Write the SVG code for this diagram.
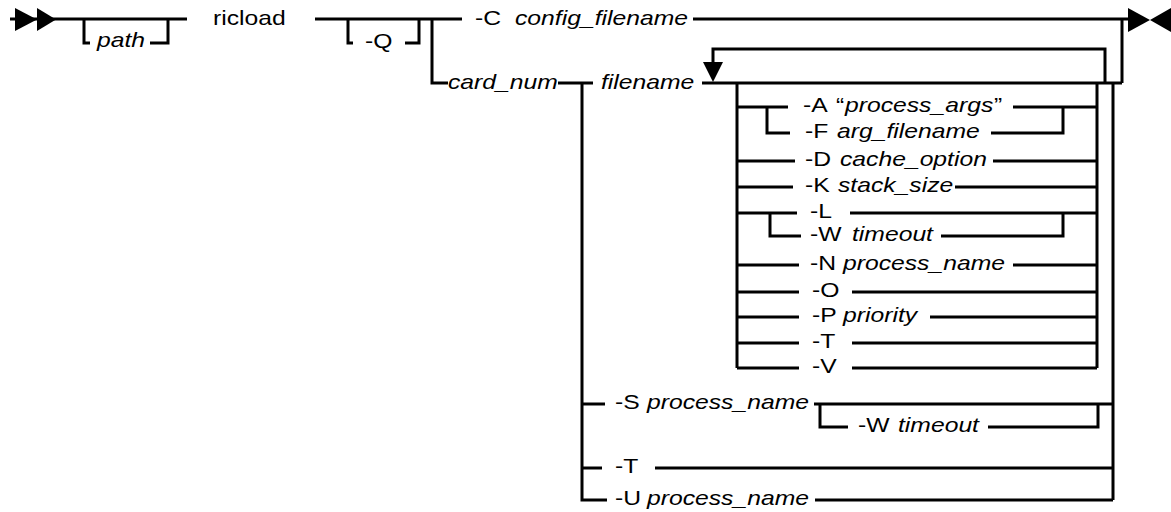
<svg xmlns="http://www.w3.org/2000/svg" width="1171" height="512" viewBox="0 0 1171 512">
  <style>
    .w { stroke: #000; stroke-width: 3; fill: none; stroke-linecap: butt; stroke-linejoin: miter; }
    .ah { fill: #000; stroke: none; }
    text { font-family: "Liberation Sans", Arial, sans-serif; font-size: 20px; fill: #000; }
    .i { font-style: italic; }
  </style>
  <rect width="1171" height="512" fill="#fff"/>

  <!-- connectors: main line, branches, rails and loop -->
  <g id="connectors" class="w">
    <!-- main line -->
    <path d="M10 19 H187"/>
    <path d="M315 19 H462"/>
    <path d="M693 19 H1128"/>
    <path d="M1122 19 V83"/>
    <!-- optional path -->
    <path d="M84 19 V43 H90"/>
    <path d="M150 43 H168 V19"/>
    <!-- optional -Q -->
    <path d="M348 19 V43 H353"/>
    <path d="M405 43 H419 V19"/>
    <!-- card_num branch -->
    <path d="M432 19 V83 H448"/>
    <path d="M558 83 H593"/>
    <path d="M582 83 V500 H607"/>
    <path d="M702 83 H1122"/>
    <!-- repeat loop -->
    <path d="M713 62 V49 H1105 V83"/>
    <!-- option group rails -->
    <path d="M737 83 V368"/>
    <path d="M1097 83 V368"/>
    <path d="M1113 83 V500"/>
    <!-- -A / -F -->
    <path d="M737 107 H788"/>
    <path d="M1013 107 H1097"/>
    <path d="M767 107 V133 H790"/>
    <path d="M991 133 H1063 V107"/>
    <!-- -D -->
    <path d="M737 161 H795"/>
    <path d="M993 161 H1097"/>
    <!-- -K -->
    <path d="M737 187 H793"/>
    <path d="M955 187 H1097"/>
    <!-- -L / -W -->
    <path d="M737 213 H797"/>
    <path d="M850 213 H1097"/>
    <path d="M770 213 V236 H801"/>
    <path d="M941 236 H1063 V213"/>
    <!-- -N -->
    <path d="M737 265 H799"/>
    <path d="M1013 265 H1097"/>
    <!-- -O -->
    <path d="M737 292 H799"/>
    <path d="M852 292 H1097"/>
    <!-- -P -->
    <path d="M737 317 H799"/>
    <path d="M930 317 H1097"/>
    <!-- -T -->
    <path d="M737 343 H799"/>
    <path d="M852 343 H1097"/>
    <!-- -V -->
    <path d="M737 368 H799"/>
    <path d="M852 368 H1097"/>
    <!-- -S / -W -->
    <path d="M582 404 H605"/>
    <path d="M814 404 H1113"/>
    <path d="M820 404 V427 H848"/>
    <path d="M988 427 H1098 V404"/>
    <!-- -T -->
    <path d="M582 468 H602"/>
    <path d="M655 468 H1113"/>
    <!-- -U -->
    <path d="M815 500 H1113"/>
  </g>

  <!-- start / end / loop markers -->
  <g id="start">
    <polygon class="ah" points="15,8 37,19.5 15,31"/>
    <polygon class="ah" points="37,8 56,19.5 37,31"/>
  </g>
  <g id="end">
    <polygon class="ah" points="1128,8 1150,20 1128,32"/>
    <polygon class="ah" points="1171,8 1150,20 1171,32"/>
  </g>
  <g id="loop-arrow">
    <polygon class="ah" points="703,62 723,62 713,82"/>
  </g>

  <!-- main row -->
  <g id="path"><text class="i" transform="translate(97 47) scale(1.235 1)">path</text></g>
  <g id="ricload"><text transform="translate(213 25) scale(1.235 1)">ricload</text></g>
  <g id="opt-Q"><text transform="translate(365 48) scale(1.235 1)">-Q</text></g>
  <g id="opt-C">
    <text transform="translate(475 25) scale(1.235 1)">-C</text>
    <text class="i" transform="translate(515 25) scale(1.235 1)">config_filename</text>
  </g>
  <g id="card_num"><text class="i" transform="translate(448 89) scale(1.235 1)">card_num</text></g>
  <g id="filename"><text class="i" transform="translate(601 89) scale(1.235 1)">filename</text></g>

  <!-- option group -->
  <g id="opt-A">
    <text transform="translate(803 112) scale(1.235 1)">-A</text>
    <text transform="translate(836 112) scale(1.235 1)">“</text>
    <text class="i" transform="translate(845 112) scale(1.235 1)">process_args</text>
    <text transform="translate(994 112) scale(1.235 1)">”</text>
  </g>
  <g id="opt-F">
    <text transform="translate(805 138) scale(1.235 1)">-F</text>
    <text class="i" transform="translate(837 138) scale(1.235 1)">arg_filename</text>
  </g>
  <g id="opt-D">
    <text transform="translate(805 166) scale(1.235 1)">-D</text>
    <text class="i" transform="translate(840 166) scale(1.235 1)">cache_option</text>
  </g>
  <g id="opt-K">
    <text transform="translate(805 192) scale(1.235 1)">-K</text>
    <text class="i" transform="translate(838 192) scale(1.235 1)">stack_size</text>
  </g>
  <g id="opt-L"><text transform="translate(810 218) scale(1.235 1)">-L</text></g>
  <g id="opt-W1">
    <text transform="translate(810 241) scale(1.235 1)">-W</text>
    <text class="i" transform="translate(852 241) scale(1.235 1)">timeout</text>
  </g>
  <g id="opt-N">
    <text transform="translate(810 270) scale(1.235 1)">-N</text>
    <text class="i" transform="translate(843 270) scale(1.235 1)">process_name</text>
  </g>
  <g id="opt-O"><text transform="translate(812 297) scale(1.235 1)">-O</text></g>
  <g id="opt-P">
    <text transform="translate(812 322) scale(1.235 1)">-P</text>
    <text class="i" transform="translate(843 322) scale(1.235 1)">priority</text>
  </g>
  <g id="opt-T1"><text transform="translate(812 348) scale(1.235 1)">-T</text></g>
  <g id="opt-V"><text transform="translate(812 373) scale(1.235 1)">-V</text></g>

  <!-- alternatives to filename -->
  <g id="opt-S">
    <text transform="translate(615 409) scale(1.235 1)">-S</text>
    <text class="i" transform="translate(647 409) scale(1.235 1)">process_name</text>
  </g>
  <g id="opt-W2">
    <text transform="translate(858 432) scale(1.235 1)">-W</text>
    <text class="i" transform="translate(898 432) scale(1.235 1)">timeout</text>
  </g>
  <g id="opt-T2"><text transform="translate(615 473) scale(1.235 1)">-T</text></g>
  <g id="opt-U">
    <text transform="translate(615 505) scale(1.235 1)">-U</text>
    <text class="i" transform="translate(647 505) scale(1.235 1)">process_name</text>
  </g>
</svg>
